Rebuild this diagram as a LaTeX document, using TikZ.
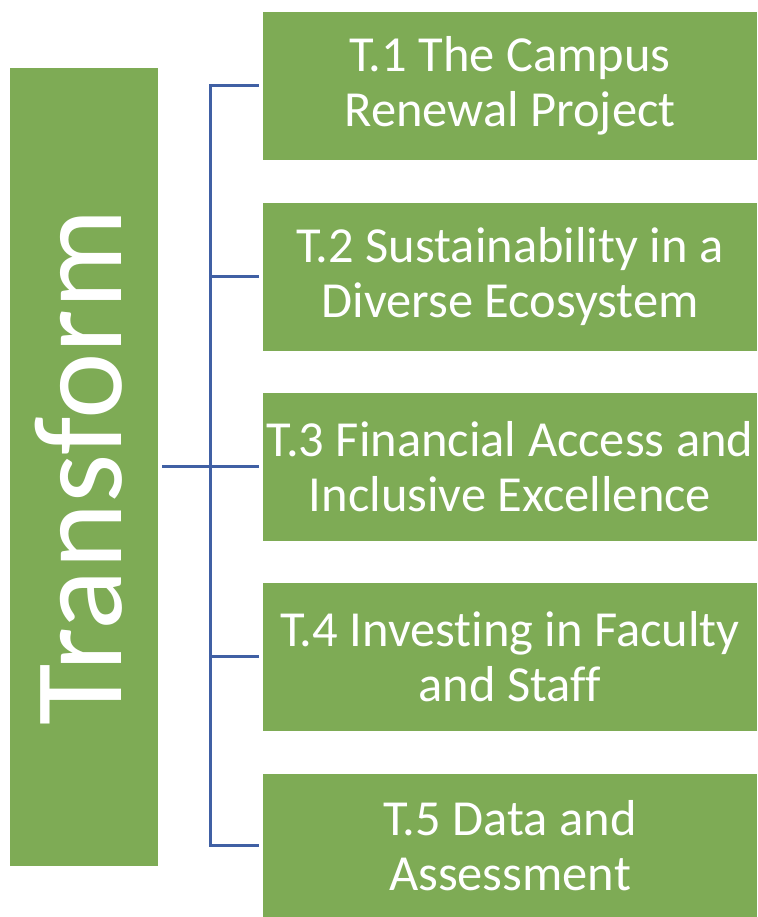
\documentclass[tikz,border=0pt]{standalone}
\usepackage{fontspec}
\setmainfont{Carlito}[Ligatures=NoCommon]
\definecolor{leafgreen}{HTML}{7EAB55}
\definecolor{linkblue}{HTML}{4060A4}
\begin{document}
\begin{tikzpicture}[x=1pt,y=1pt,
  goalbox/.style={fill=leafgreen,draw=none,minimum width=494pt,minimum height=148pt,
    text=white,align=center,font=\fontsize{50.5}{55}\selectfont,inner sep=0pt},
  link/.style={draw=linkblue,line width=3pt}]
  \useasboundingbox (0,0) rectangle (757,917);

  \node[fill=leafgreen,minimum width=148pt,minimum height=798pt,inner sep=0pt] (transform) at (84,450) {};
  \node[text=white,rotate=90,font=\fontsize{126}{126}\selectfont] (title) at (79,450) {Transform};

  \node[goalbox] (t1) at (510,831) {T.1 The Campus\\Renewal Project};
  \node[goalbox] (t2) at (510,640) {T.2 Sustainability in a\\Diverse Ecosystem};
  \node[goalbox] (t3) at (510,450) {T.3 Financial Access and\\Inclusive Excellence};
  \node[goalbox] (t4) at (510,260) {T.4 Investing in Faculty\\and Staff};
  \node[goalbox,minimum height=143pt] (t5) at (510,71.5) {T.5 Data and\\Assessment};

  \coordinate (bus) at (210,450);

  \draw[link,shorten <=4pt,shorten >=4pt] (transform.east) -- (t3.west);
  \foreach \to in {t1,t2,t4,t5}
    \draw[link,shorten >=4pt] (bus) |- (\to.west);
\end{tikzpicture}
\end{document}
